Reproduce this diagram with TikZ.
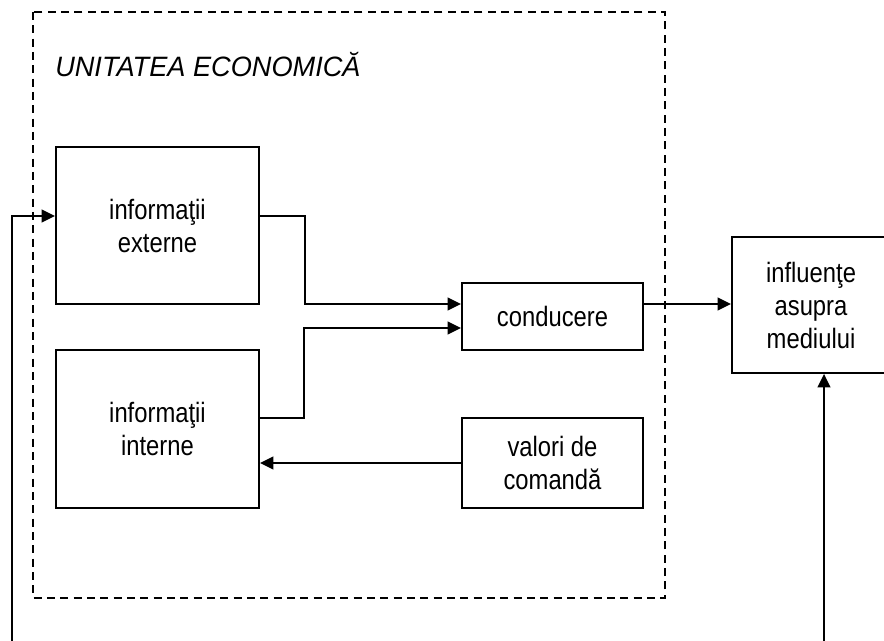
\documentclass[tikz,border=0pt]{standalone}
\usepackage{fontspec}
\setmainfont{Liberation Sans}[FakeStretch=0.85]
\newfontfamily\titlefont{Liberation Sans}[FakeStretch=0.97]
\usetikzlibrary{arrows.meta,calc}
\tikzset{
  box/.style={draw, line width=1.4pt, rectangle, inner sep=0pt, align=center,
    font=\fontsize{21pt}{24.75pt}\selectfont},
  arr/.style={line width=1.4pt, -{Triangle[length=10pt,width=9.5pt]}},
  plain/.style={line width=1.4pt},
  dashedbox/.style={draw, line width=1pt, dash pattern=on 6pt off 4pt}
}
\begin{document}
\begin{tikzpicture}[x=0.75pt,y=-0.75pt]
\clip (0,0) rectangle (884,641);
\fill[white] (0,0) rectangle (884,641);
\draw[dashedbox] (33,12) rectangle (665,598);
\node[anchor=base west, inner sep=0pt, font=\titlefont\itshape\fontsize{21pt}{25pt}\selectfont] (title) at (55,77) {UNITATEA ECONOMICĂ};
\node[box, minimum width=203*0.75pt, minimum height=157*0.75pt] (externe) at (157.5,225.5) {informaţii\\externe};
\node[box, minimum width=203*0.75pt, minimum height=158*0.75pt] (interne) at (157.5,429) {informaţii\\interne};
\node[box, minimum width=181*0.75pt, minimum height=67*0.75pt] (conducere) at (552.5,316.5) {conducere};
\node[box, minimum width=181*0.75pt, minimum height=90*0.75pt] (valori) at (552.5,463) {valori de\\comandă};
\node[box, minimum width=158*0.75pt, minimum height=136*0.75pt] (influente) at (811,305) {influenţe\\asupra\\mediului};
% connectors
\coordinate (L0) at (12,641);
\coordinate (R0) at (824,641);
\coordinate (eIn) at ([yshift=7.125pt]externe.west);
\coordinate (eOut) at ([yshift=7.125pt]externe.east);
\coordinate (iOut) at ([yshift=8.25pt]interne.east);
\coordinate (cIn1) at ([yshift=9.375pt]conducere.west);
\coordinate (cIn2) at ([yshift=-8.625pt]conducere.west);
\coordinate (cOut) at ([yshift=9.375pt]conducere.east);
\coordinate (iIn) at ([yshift=-25.5pt]interne.east);
\draw[arr] (L0) |- (eIn);
\draw[arr] (eOut) -- ++(45,0) |- (cIn1);
\draw[arr] (iOut) -- ++(44,0) |- (cIn2);
\draw[arr] (valori.west) -- (iIn);
\draw[arr] (cOut) -- (cOut -| influente.west);
\draw[arr] (R0) -- (R0 |- influente.south);
\end{tikzpicture}
\end{document}
